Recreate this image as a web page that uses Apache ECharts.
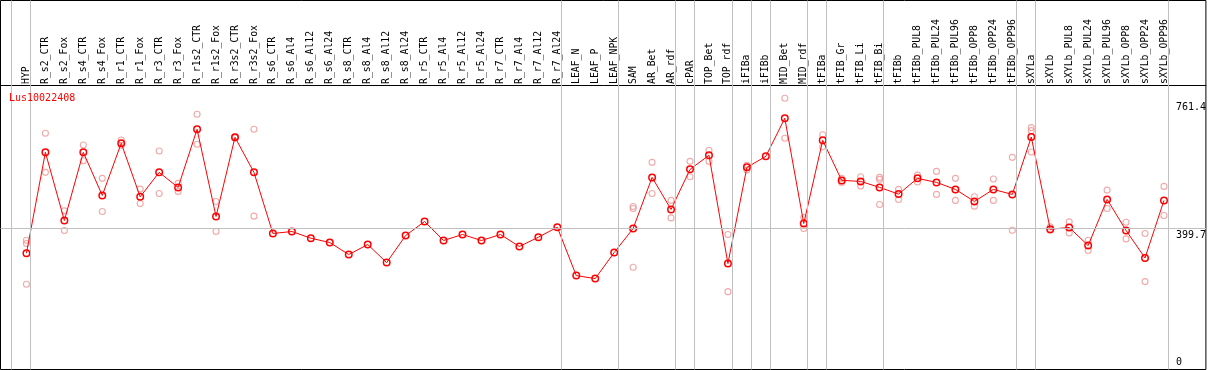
<!DOCTYPE html>
<html><head><meta charset="utf-8">
<script src="https://cdn.jsdelivr.net/npm/echarts@6/dist/echarts.min.js"></script>
<style>html,body{margin:0;padding:0;background:#fff;overflow:hidden}#c{width:1209px;height:370px}</style>
</head><body><div id="c"></div>
<script>
const chartTitle = 'Lus10022408';
const categories = ['HYP','R_s2_CTR','R_s2_Fox','R_s4_CTR','R_s4_Fox','R_r1_CTR','R_r1_Fox','R_r3_CTR','R_r3_Fox','R_r1s2_CTR','R_r1s2_Fox','R_r3s2_CTR','R_r3s2_Fox','R_s6_CTR','R_s6_Al4','R_s6_Al12','R_s6_Al24','R_s8_CTR','R_s8_Al4','R_s8_Al12','R_s8_Al24','R_r5_CTR','R_r5_Al4','R_r5_Al12','R_r5_Al24','R_r7_CTR','R_r7_Al4','R_r7_Al12','R_r7_Al24','LEAF_N','LEAF_P','LEAF_NPK','SAM','AR_Bet','AR_rdf','cPAR','TOP_Bet','TOP_rdf','iFIBa','iFIBb','MID_Bet','MID_rdf','tFIBa','tFIB_Gr','tFIB_Li','tFIB_Bi','tFIBb','tFIBb_PUL8','tFIBb_PUL24','tFIBb_PUL96','tFIBb_OPP8','tFIBb_OPP24','tFIBb_OPP96','sXYLa','sXYLb','sXYLb_PUL8','sXYLb_PUL24','sXYLb_PUL96','sXYLb_OPP8','sXYLb_OPP24','sXYLb_OPP96'];
const meanValues = [329.5,615.6,422.4,615.6,493.5,641.2,489.5,558.8,516.2,681.0,433.8,658.2,558.8,385.5,391.2,372.2,359.9,325.9,354.3,303.1,379.8,419.6,365.6,382.7,365.6,382.7,348.6,375.0,403.4,266.2,257.7,331.5,399.7,544.6,453.7,567.3,607.1,300.3,573.0,604.3,712.2,413.9,649.7,536.1,533.2,516.2,497.2,541.8,530.4,510.5,476.4,510.5,496.3,659.1,397.7,402.6,351.4,482.1,394.0,316.2,479.3];
const N = null;
const rep1 = [366.5,669.6,449.7,636.4,541.8,650.6,511.4,619.3,527.6,723.6,476.4,659.9,681.0,N,N,N,N,N,N,N,N,N,N,N,N,N,N,N,N,N,N,N,462.2,587.2,479.3,590.1,621.3,382.7,578.7,N,769.0,431.0,665.6,541.8,546.3,544.6,510.5,551.1,561.6,541.8,489.5,539.8,601.4,685.5,404.3,418.5,366.5,508.5,417.6,385.5,519.0];
const rep2 = [357.1,558.8,394.0,591.8,448.0,635.5,470.7,499.1,504.8,638.4,391.2,656.5,434.7,N,N,N,N,N,N,N,N,N,N,N,N,N,N,N,N,N,N,N,456.5,499.1,429.8,546.3,590.1,220.7,565.3,N,655.4,399.7,631.5,530.4,519.9,538.9,482.1,531.3,496.3,479.3,463.1,479.3,394.9,677.0,394.9,387.2,337.2,456.5,370.2,249.1,436.6];
const rep3 = [241.5,N,N,N,N,N,N,N,N,N,N,N,N,N,N,N,N,N,N,N,N,N,N,N,N,N,N,N,N,N,N,N,289.8,N,N,N,N,N,N,N,N,N,N,N,N,467.9,N,N,N,N,N,N,N,616.5,N,N,N,N,N,N,N];
const groupEnds = [-1,0,28,31,34,35,37,38,39,41,42,45,52,53,60];
const yTickValues = [761.4, 399.7];
const yBottomTick = [0];
const refLineValue = 399.7;

const FONT = 'DejaVu Sans Mono';
const pairs = arr => arr.map((v,i) => v == null ? null : [i, v]).filter(Boolean);
const repData = [].concat(pairs(rep1), pairs(rep2), pairs(rep3));
const lineOffset = 4/19;

const chart = echarts.init(document.getElementById('c'), null, {renderer:'canvas'});
chart.setOption({
  animation: false,
  backgroundColor: '#fff',
  title: { text: chartTitle, left: 9, top: 93, padding: 0,
    textStyle: { fontFamily: FONT, fontSize: 10, fontWeight: 'normal', color: '#ff0000' } },
  grid: { left: 0.5, right: 0.5, top: 0.5, bottom: 0.5, show: true, borderColor: '#000', borderWidth: 1, backgroundColor: 'transparent' },
  xAxis: { type: 'value', min: -26/19, max: 1182/19, position: 'top', offset: -84.5,
    axisLine: { show: true, onZero: false, lineStyle: { color: '#000', width: 1 } },
    axisTick: { show: false }, splitLine: { show: false },
    axisLabel: { customValues: categories.map((c,i)=>i), formatter: v => categories[v], rotate: -90, align: 'left', verticalAlign: 'middle', margin: 1,
      fontFamily: FONT, fontSize: 9.8, color: '#000', padding: [0,0,7,0] } },
  yAxis: [
    { type: 'value', min: 0, max: 1046, position: 'right', axisLine:{show:false}, axisTick:{show:false}, splitLine:{show:false},
      axisLabel: { inside: true, customValues: yTickValues, formatter: v => String(v), align: 'left', verticalAlign: 'top', margin: 30,
        fontFamily: FONT, fontSize: 10, color: '#000', padding: [2,0,0,0] } },
    { type: 'value', min: 0, max: 1046, position: 'right', axisLine:{show:false}, axisTick:{show:false}, splitLine:{show:false},
      axisLabel: { inside: true, customValues: yBottomTick, formatter: v => String(v), align: 'left', verticalAlign: 'bottom', margin: 30,
        fontFamily: FONT, fontSize: 10, color: '#000', padding: [0,0,2,0] } }
  ],
  series: [
    { type: 'line', data: [], silent: true, z: 1,
      markLine: { silent: true, symbol: 'none', label: { show: false }, animation: false,
        lineStyle: { color: '#c0c0c0', width: 1, type: 'solid' },
        data: groupEnds.map(g => ({ xAxis: g + lineOffset })).concat([{ yAxis: refLineValue }]) } },
    { type: 'scatter', data: repData, symbol: 'circle', symbolSize: 6, z: 2,
      itemStyle: { color: 'transparent', borderColor: '#ee9494', borderWidth: 1.1 } },
    { type: 'line', data: meanValues.map((v,i)=>[i,v]), symbol: 'circle', symbolSize: 6.5, z: 3,
      lineStyle: { color: '#ff0000', width: 1 },
      itemStyle: { color: 'transparent', borderColor: '#ff0000', borderWidth: 1.5 } }
  ]
});
</script></body></html>
